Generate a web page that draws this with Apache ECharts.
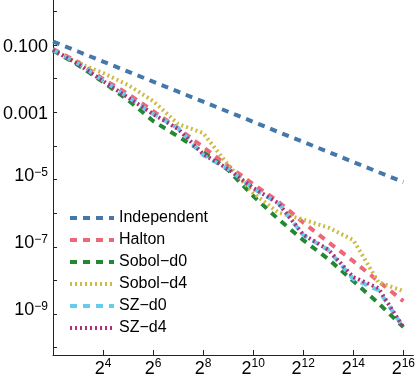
<!DOCTYPE html>
<html><head><meta charset="utf-8">
<script src="https://cdn.jsdelivr.net/npm/echarts@6/dist/echarts.min.js"></script>
<style>html,body{margin:0;padding:0;background:#fff}#c{width:418px;height:382px}</style>
</head><body><div id="c"></div>
<script>
// sample sizes N = 2^2 ... 2^16
const sampleSizes = [4, 8, 16, 32, 64, 128, 256, 512, 1024, 2048, 4096, 8192, 16384, 32768, 65536];
const independent = [0.128, 0.0645, 0.0323, 0.0163, 0.00814, 0.0041, 0.00207, 0.00104, 5.22e-4, 2.61e-4, 1.32e-4, 6.63e-5, 3.32e-5, 1.67e-5, 8.43e-6];
const halton      = [0.0766, 0.0314, 0.0098, 0.00351, 0.00109, 3.3e-4, 9.27e-5, 2.52e-5, 7.34e-6, 2.21e-6, 5.25e-7, 1.38e-7, 3.75e-8, 9.52e-9, 2.42e-9];
const sobolD0     = [0.0691, 0.0256, 0.00798, 0.00232, 5.51e-4, 1.91e-4, 6.58e-5, 1.92e-5, 3.23e-6, 6.67e-7, 1.58e-7, 4.31e-8, 9.52e-9, 2.11e-9, 4.07e-10];
const sobolD4     = [0.0715, 0.0293, 0.0148, 0.00649, 0.00217, 4.49e-4, 2.42e-4, 2.7e-5, 3.96e-6, 1.04e-6, 6.45e-7, 3.72e-7, 1.58e-7, 8.89e-9, 4.81e-9];
const szD0        = [0.0715, 0.0283, 0.00884, 0.00285, 8.9e-4, 3.41e-4, 5.36e-5, 2.05e-5, 5.4e-6, 2.0e-6, 2.23e-7, 7.98e-8, 1.09e-8, 5.14e-9, 4.07e-10];
const szD4        = [0.0715, 0.0274, 0.00855, 0.00275, 8.9e-4, 3.18e-4, 5.74e-5, 2.05e-5, 5.58e-6, 2.0e-6, 2.3e-7, 8.2e-8, 1.25e-8, 5.9e-9, 4.0e-10];

const seriesNames = ['Independent', 'Halton', 'Sobol\u2212d0', 'Sobol\u2212d4', 'SZ\u2212d0', 'SZ\u2212d4'];

// tick labels
const xTickValues = [16, 64, 256, 1024, 4096, 16384, 65536];
const xTickExponents = ['4', '6', '8', '10', '12', '14', '16'];
const yTickValues = [1, 1e-1, 1e-2, 1e-3, 1e-4, 1e-5, 1e-6, 1e-7, 1e-8, 1e-9, 1e-10];
const yLabelValues = [1e-1, 1e-3, 1e-5, 1e-7, 1e-9];
const yLabelBases = ['0.100', '0.001', '10', '10', '10'];
const yLabelExponents = ['', '', '\u22125', '\u22127', '\u22129'];

const seriesData = [independent, halton, sobolD0, sobolD4, szD0, szD4];
const colors = ['#4477AA', '#EE6677', '#228833', '#CCBB44', '#66CCEE', '#AA3377'];
const dashes = [[7, 6], [7, 6], [7, 6], [2, 3], [7, 6], [2, 3]];

const FONT = 'Liberation Sans';
const chart = echarts.init(document.getElementById('c'), null, {renderer: 'canvas'});

function nearestIndex(arr, v) {
  let best = -1, bd = Infinity;
  arr.forEach((a, i) => { const d = Math.abs(Math.log(a) - Math.log(v)); if (d < bd) { bd = d; best = i; } });
  return bd < 0.01 ? best : -1;
}

chart.setOption({
  animation: false,
  backgroundColor: '#fff',
  grid: {left: 51.5, right: 1.5, top: 0, bottom: 27, containLabel: false},
  xAxis: {
    type: 'log', logBase: 2,
    min: 4, max: Math.pow(2, 16.4),
    splitLine: {show: false},
    axisLine: {lineStyle: {color: '#222', width: 1}},
    axisTick: {inside: true, length: 5, lineStyle: {color: '#222'}, customValues: xTickValues},
    axisLabel: {
      customValues: xTickValues,
      margin: 3,
      formatter: function (v) {
        const i = nearestIndex(xTickValues, v);
        return i < 0 ? '' : '{b|2}{s|' + xTickExponents[i] + '}';
      },
      rich: {
        b: {fontSize: 18, fontFamily: FONT, color: '#000', lineHeight: 20, verticalAlign: 'bottom'},
        s: {fontSize: 12, fontFamily: FONT, color: '#000', lineHeight: 17, verticalAlign: 'top'}
      }
    }
  },
  yAxis: {
    type: 'log', logBase: 10,
    min: Math.pow(10, -10.22), max: Math.pow(10, 0.342),
    splitLine: {show: false},
    axisLine: {lineStyle: {color: '#222', width: 1}},
    axisTick: {inside: true, length: 4, lineStyle: {color: '#222'}, customValues: yTickValues},
    axisLabel: {
      customValues: yLabelValues,
      margin: 5,
      formatter: function (v) {
        const i = nearestIndex(yLabelValues, v);
        if (i < 0) return '';
        return yLabelExponents[i]
          ? '{e|' + yLabelBases[i] + '}{s|' + yLabelExponents[i] + '}{d|}'
          : '{b|' + yLabelBases[i] + '}';
      },
      rich: {
        b: {fontSize: 18, fontFamily: FONT, color: '#000', lineHeight: 22, verticalAlign: 'bottom'},
        e: {fontSize: 18, fontFamily: FONT, color: '#000', lineHeight: 20, verticalAlign: 'top'},
        s: {fontSize: 12, fontFamily: FONT, color: '#000', lineHeight: 16, verticalAlign: 'top'},
        d: {fontSize: 1, lineHeight: 26, verticalAlign: 'top', width: 0}
      }
    }
  },
  legend: {
    orient: 'vertical',
    left: 68, top: 210, padding: 0,
    itemWidth: 44, itemHeight: 16, itemGap: 6,
    textStyle: {fontSize: 16, fontFamily: FONT, color: '#000', lineHeight: 16},
    itemStyle: {opacity: 0},
    lineStyle: {width: 4},
    data: seriesNames
  },
  series: seriesNames.map((name, si) => ({
    name: name,
    type: 'line',
    symbol: 'none',
    data: sampleSizes.map((n, i) => [n, seriesData[si][i]]),
    lineStyle: {color: colors[si], width: 4, type: dashes[si], cap: 'butt'},
    itemStyle: {color: colors[si]},
    z: 2 + si
  }))
});
</script>
</body></html>
